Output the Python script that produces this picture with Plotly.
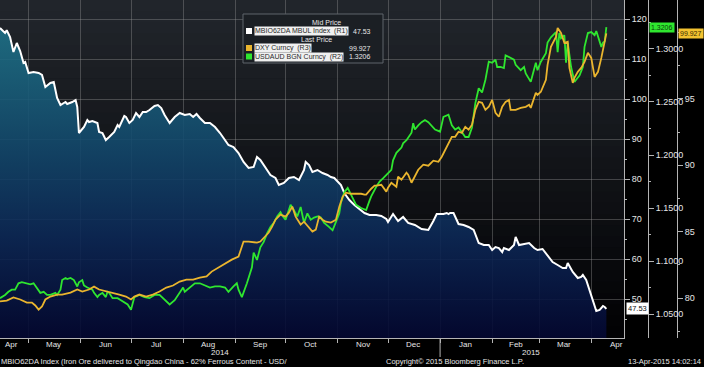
import plotly.graph_objects as go

# ---------------- data ----------------
iron_dates = ["2014-04-14","2014-04-17","2014-04-18","2014-04-20","2014-04-22","2014-04-24","2014-04-26","2014-04-28","2014-04-29","2014-05-01",
 "2014-05-04","2014-05-07","2014-05-09","2014-05-11","2014-05-14","2014-05-16","2014-05-18","2014-05-20","2014-05-23","2014-05-24",
 "2014-05-27","2014-05-29","2014-05-30","2014-05-31","2014-06-03","2014-06-05","2014-06-06","2014-06-08","2014-06-11","2014-06-12",
 "2014-06-14","2014-06-16","2014-06-18","2014-06-21","2014-06-23","2014-06-24","2014-06-27","2014-06-28","2014-06-30","2014-07-02",
 "2014-07-04","2014-07-06","2014-07-08","2014-07-10","2014-07-12","2014-07-15","2014-07-17","2014-07-19","2014-07-21","2014-07-24",
 "2014-07-27","2014-07-30","2014-08-02","2014-08-05","2014-08-07","2014-08-09","2014-08-11","2014-08-14","2014-08-17","2014-08-20",
 "2014-08-23","2014-08-26","2014-08-28","2014-08-31","2014-09-03","2014-09-06","2014-09-09","2014-09-12","2014-09-14","2014-09-16",
 "2014-09-19","2014-09-22","2014-09-25","2014-09-27","2014-09-30","2014-10-03","2014-10-06","2014-10-09","2014-10-12","2014-10-13",
 "2014-10-15","2014-10-17","2014-10-20","2014-10-23","2014-10-26","2014-10-28","2014-10-30","2014-11-01","2014-11-03","2014-11-05",
 "2014-11-08","2014-11-11","2014-11-14","2014-11-17","2014-11-20","2014-11-24","2014-11-27","2014-11-30","2014-12-01","2014-12-04",
 "2014-12-07","2014-12-10","2014-12-13","2014-12-17","2014-12-21","2014-12-25","2014-12-28","2014-12-30","2015-01-03","2015-01-05",
 "2015-01-06","2015-01-07","2015-01-09","2015-01-12","2015-01-15","2015-01-18","2015-01-21","2015-01-24","2015-01-27","2015-01-30",
 "2015-02-01","2015-02-03","2015-02-05","2015-02-07","2015-02-08","2015-02-11","2015-02-14","2015-02-15","2015-02-17","2015-02-20",
 "2015-02-23","2015-02-26","2015-02-28","2015-03-03","2015-03-06","2015-03-09","2015-03-12","2015-03-15","2015-03-17","2015-03-18",
 "2015-03-21","2015-03-24","2015-03-26","2015-03-27","2015-03-29","2015-03-31","2015-04-02","2015-04-04","2015-04-06","2015-04-08",
 "2015-04-09","2015-04-10"]
iron_vals = [117.75,116.5,117.2,115.5,111.75,114.0,112.0,109.0,109.25,106.5,
 106.75,106.5,106.0,103.0,104.0,104.25,100.25,98.5,99.25,98.75,
 99.25,99.75,98.0,91.5,93.0,94.75,94.25,94.5,94.0,91.75,
 91.5,89.75,90.5,91.75,93.5,93.0,95.75,95.5,94.0,94.75,
 96.5,95.5,96.75,96.75,97.25,98.25,98.5,97.75,96.0,94.0,
 95.5,96.5,96.0,96.25,95.5,96.25,95.25,94.0,94.0,93.0,
 91.5,89.75,88.5,88.0,86.5,84.25,82.75,83.0,85.5,84.75,
 82.75,81.0,80.25,78.5,79.0,80.25,80.5,79.75,82.25,84.25,
 83.5,81.75,82.25,81.5,81.0,80.5,80.25,79.25,78.5,76.5,
 74.75,73.5,72.5,71.5,71.0,71.0,70.75,70.0,69.25,71.25,
 69.5,70.5,69.0,68.5,67.5,67.25,69.5,71.25,71.25,71.5,
 71.25,71.5,71.5,68.75,68.5,68.0,67.25,64.0,63.5,63.5,
 62.25,63.0,62.75,61.75,62.75,62.25,63.5,65.5,63.5,63.75,
 64.0,62.75,62.25,62.5,61.0,59.25,58.5,57.75,57.75,59.0,
 56.75,55.25,55.5,56.0,54.75,52.25,49.75,47.0,47.25,48.25,
 48.0,47.53]

aud_dates = ["2014-04-14","2014-04-17","2014-04-19","2014-04-21","2014-04-23","2014-04-25","2014-04-27","2014-04-29","2014-05-02","2014-05-04",
 "2014-05-05","2014-05-07","2014-05-08","2014-05-10","2014-05-12","2014-05-14","2014-05-17","2014-05-18","2014-05-20","2014-05-21",
 "2014-05-23","2014-05-24","2014-05-26","2014-05-28","2014-05-29","2014-05-30","2014-05-31","2014-06-02","2014-06-03","2014-06-05",
 "2014-06-08","2014-06-09","2014-06-11","2014-06-12","2014-06-14","2014-06-16","2014-06-17","2014-06-18","2014-06-20","2014-06-23",
 "2014-06-25","2014-06-27","2014-06-29","2014-07-01","2014-07-02","2014-07-03","2014-07-06","2014-07-09","2014-07-12","2014-07-15",
 "2014-07-18","2014-07-21","2014-07-24","2014-07-27","2014-07-30","2014-08-01","2014-08-02","2014-08-05","2014-08-08","2014-08-11",
 "2014-08-14","2014-08-17","2014-08-20","2014-08-23","2014-08-26","2014-08-28","2014-08-31","2014-09-02","2014-09-03","2014-09-05",
 "2014-09-08","2014-09-11","2014-09-12","2014-09-14","2014-09-16","2014-09-18","2014-09-20","2014-09-22","2014-09-24","2014-09-26",
 "2014-09-28","2014-09-29","2014-10-01","2014-10-04","2014-10-06","2014-10-08","2014-10-10","2014-10-12","2014-10-14","2014-10-16",
 "2014-10-18","2014-10-20","2014-10-22","2014-10-24","2014-10-27","2014-10-29","2014-10-31","2014-11-02","2014-11-03","2014-11-05",
 "2014-11-07","2014-11-09","2014-11-12","2014-11-15","2014-11-18","2014-11-20","2014-11-21","2014-11-24","2014-11-26","2014-11-28",
 "2014-11-30","2014-12-03","2014-12-04","2014-12-06","2014-12-09","2014-12-10","2014-12-12","2014-12-15","2014-12-16","2014-12-17",
 "2014-12-19","2014-12-21","2014-12-23","2014-12-25","2014-12-29","2015-01-01","2015-01-03","2015-01-06","2015-01-08","2015-01-10",
 "2015-01-12","2015-01-14","2015-01-16","2015-01-18","2015-01-20","2015-01-22","2015-01-24","2015-01-26","2015-01-28","2015-01-30",
 "2015-02-01","2015-02-03","2015-02-04","2015-02-06","2015-02-08","2015-02-09","2015-02-12","2015-02-14","2015-02-15","2015-02-18",
 "2015-02-20","2015-02-21","2015-02-24","2015-02-25","2015-02-27","2015-02-28","2015-03-02","2015-03-05","2015-03-06","2015-03-08",
 "2015-03-11","2015-03-12","2015-03-13","2015-03-14","2015-03-16","2015-03-17","2015-03-18","2015-03-20","2015-03-22","2015-03-23",
 "2015-03-25","2015-03-27","2015-03-28","2015-03-30","2015-04-01","2015-04-03","2015-04-04","2015-04-07","2015-04-08","2015-04-09",
 "2015-04-10"]
aud_vals = [1.065,1.068,1.071,1.073,1.073,1.079,1.080,1.079,1.078,1.079,
 1.077,1.073,1.070,1.071,1.068,1.068,1.070,1.068,1.073,1.082,
 1.084,1.083,1.084,1.082,1.079,1.076,1.080,1.082,1.077,1.075,
 1.073,1.070,1.066,1.068,1.070,1.066,1.071,1.070,1.065,1.065,
 1.063,1.061,1.059,1.054,1.061,1.066,1.068,1.066,1.065,1.068,
 1.068,1.063,1.059,1.063,1.071,1.075,1.071,1.075,1.079,1.079,
 1.077,1.075,1.076,1.076,1.075,1.071,1.076,1.079,1.073,1.066,
 1.079,1.094,1.108,1.101,1.113,1.118,1.126,1.132,1.136,1.142,
 1.146,1.143,1.139,1.153,1.148,1.142,1.151,1.136,1.145,1.139,
 1.141,1.142,1.141,1.136,1.132,1.129,1.137,1.145,1.155,1.165,
 1.169,1.162,1.153,1.150,1.148,1.157,1.161,1.170,1.175,1.178,
 1.181,1.186,1.195,1.202,1.207,1.211,1.214,1.221,1.230,1.224,
 1.228,1.231,1.233,1.231,1.224,1.222,1.236,1.238,1.228,1.224,
 1.226,1.221,1.217,1.217,1.226,1.249,1.263,1.259,1.271,1.288,
 1.287,1.290,1.283,1.283,1.282,1.294,1.292,1.290,1.285,1.280,
 1.283,1.277,1.269,1.275,1.287,1.280,1.288,1.296,1.306,1.311,
 1.316,1.297,1.315,1.310,1.313,1.287,1.306,1.283,1.269,1.271,
 1.275,1.283,1.302,1.315,1.316,1.313,1.317,1.302,1.306,1.307,
 1.3206]

dxy_dates = ["2014-04-14","2014-04-18","2014-04-22","2014-04-26","2014-04-30","2014-05-03","2014-05-05","2014-05-07","2014-05-09","2014-05-11",
 "2014-05-14","2014-05-18","2014-05-21","2014-05-26","2014-05-30","2014-06-02","2014-06-06","2014-06-09","2014-06-12","2014-06-17",
 "2014-06-20","2014-06-24","2014-06-28","2014-07-01","2014-07-03","2014-07-06","2014-07-10","2014-07-14","2014-07-18","2014-07-22",
 "2014-07-26","2014-07-30","2014-08-03","2014-08-07","2014-08-11","2014-08-15","2014-08-18","2014-08-23","2014-08-27","2014-08-30",
 "2014-09-03","2014-09-06","2014-09-09","2014-09-14","2014-09-16","2014-09-18","2014-09-21","2014-09-23","2014-09-25","2014-09-28",
 "2014-10-01","2014-10-03","2014-10-05","2014-10-07","2014-10-10","2014-10-12","2014-10-15","2014-10-17","2014-10-19","2014-10-21",
 "2014-10-23","2014-10-25","2014-10-28","2014-10-31","2014-11-02","2014-11-04","2014-11-06","2014-11-09","2014-11-12","2014-11-15",
 "2014-11-17","2014-11-18","2014-11-21","2014-11-23","2014-11-24","2014-11-27","2014-11-30","2014-12-01","2014-12-03","2014-12-06",
 "2014-12-07","2014-12-09","2014-12-12","2014-12-13","2014-12-15","2014-12-17","2014-12-19","2014-12-22","2014-12-25","2014-12-28",
 "2014-12-31","2015-01-02","2015-01-04","2015-01-06","2015-01-08","2015-01-10","2015-01-12","2015-01-14","2015-01-16","2015-01-18",
 "2015-01-20","2015-01-22","2015-01-24","2015-01-26","2015-01-28","2015-01-30","2015-02-01","2015-02-03","2015-02-05","2015-02-07",
 "2015-02-09","2015-02-11","2015-02-12","2015-02-15","2015-02-18","2015-02-21","2015-02-23","2015-02-24","2015-02-27","2015-02-28",
 "2015-03-02","2015-03-05","2015-03-06","2015-03-08","2015-03-11","2015-03-12","2015-03-14","2015-03-16","2015-03-18","2015-03-19",
 "2015-03-21","2015-03-22","2015-03-24","2015-03-26","2015-03-28","2015-03-30","2015-04-01","2015-04-03","2015-04-05","2015-04-07",
 "2015-04-09","2015-04-10"]
dxy_vals = [79.74,79.81,80.04,79.89,79.66,79.66,79.44,79.13,79.36,79.89,
 80.11,80.26,80.26,80.41,80.64,80.49,80.64,80.86,80.64,80.49,
 80.41,80.26,80.11,79.89,80.11,80.26,80.11,80.26,80.49,80.79,
 80.94,81.24,81.39,81.39,81.54,81.62,81.99,82.37,82.67,82.89,
 83.12,84.25,84.25,84.17,84.25,84.55,84.93,85.38,85.90,86.28,
 86.13,86.43,86.88,86.13,85.53,85.75,85.30,85.00,85.15,86.13,
 85.90,85.75,85.68,85.90,86.88,87.63,87.93,87.85,87.85,87.85,
 87.78,87.78,88.23,88.46,88.46,88.53,88.01,88.31,88.68,88.38,
 89.14,88.91,89.44,89.29,88.68,89.14,89.66,90.04,89.96,90.34,
 90.26,90.64,91.17,91.69,92.14,92.14,92.52,92.44,92.89,92.67,
 93.05,94.17,94.77,94.70,94.17,94.40,94.92,93.95,93.65,94.40,
 94.77,94.92,94.17,94.17,94.32,94.40,94.55,94.32,95.45,95.30,
 95.53,96.43,97.56,98.91,99.66,100.34,99.96,99.21,99.29,97.33,
 96.20,96.58,97.03,97.33,97.78,98.46,98.08,96.65,97.03,98.08,
 99.21,99.927]

month_starts = ["2014-05-01","2014-06-01","2014-07-01","2014-08-01","2014-09-01","2014-10-01",
                "2014-11-01","2014-12-01","2015-01-01","2015-02-01","2015-03-01","2015-04-01"]
month_label_dates = ["2014-04-21","2014-05-16","2014-06-16","2014-07-16","2014-08-16","2014-09-16","2014-10-16",
                     "2014-11-16","2014-12-16","2015-01-16","2015-02-15","2015-03-16","2015-04-16"]
month_labels = ["Apr","May","Jun","Jul","Aug","Sep","Oct","Nov","Dec","Jan","Feb","Mar","Apr"]
year_label_dates = ["2014-08-23","2015-02-24"]
year_labels = ["2014","2015"]
year_break = "2015-01-01"
r3_ticks = [80, 85, 90, 95]

X_RANGE = ["2014-04-14", "2015-04-20T12:00"]
R1_RANGE = [40.25, 124.75]
R2_RANGE = [1.0274, 1.3462]
R3_RANGE = [76.99, 102.44]

# ---------------- styling ----------------
W, H = 704, 367
PLOT_H = 338
FONT = "Liberation Sans, Arial, sans-serif"
AX = "#b4b4b4"
TXT = "#e6e6e6"
GREEN = "#2fe62f"
YELLOW = "#eab52e"
GRID = "rgba(150,150,150,0.38)"

def py(px):   # pixel (from top) -> paper y
    return 1 - px / PLOT_H

def pxx(px):
    return px / W

fig = go.Figure()

fig.add_trace(go.Scatter(
    x=iron_dates, y=iron_vals, yaxis="y", mode="lines",
    line=dict(color="white", width=2),
    fill="tozeroy",
    fillgradient=dict(type="vertical", start=R1_RANGE[0], stop=R1_RANGE[1],
                      colorscale=[[0.0, "rgba(4,8,50,0.9)"],
                                  [0.3, "rgba(12,40,86,0.9)"],
                                  [0.55, "rgba(18,70,106,0.9)"],
                                  [0.8, "rgba(26,100,126,0.9)"],
                                  [1.0, "rgba(32,122,142,0.9)"]]),
    hoverinfo="skip", showlegend=False))

fig.add_trace(go.Scatter(
    x=dxy_dates, y=dxy_vals, yaxis="y3", mode="lines",
    line=dict(color=YELLOW, width=1.8), hoverinfo="skip", showlegend=False))

fig.add_trace(go.Scatter(
    x=aud_dates, y=aud_vals, yaxis="y2", mode="lines",
    line=dict(color=GREEN, width=1.8), hoverinfo="skip", showlegend=False))

# background vertical gradient (decoration below the grid)
shapes = []
N = 30
top_c, bot_c = (34, 38, 44), (1, 1, 3)
for i in range(N):
    t = (i + 0.5) / N
    c = tuple(int(round(bot_c[k] + (top_c[k] - bot_c[k]) * t)) for k in range(3))
    shapes.append(dict(type="rect", xref="x domain", yref="y domain",
                       x0=0, x1=1, y0=i / N, y1=(i + 1) / N + 0.002,
                       fillcolor="rgb(%d,%d,%d)" % c, line=dict(width=0), layer="below"))

# year separator tick
shapes.append(dict(type="line", xref="x", yref="paper", x0=year_break, x1=year_break,
                   y0=0, y1=py(357), line=dict(color=AX, width=1)))

# legend box
shapes.append(dict(type="rect", xref="paper", yref="paper",
                   x0=pxx(243), x1=pxx(383), y0=py(63), y1=py(14),
                   fillcolor="rgb(27,31,36)", line=dict(color="rgb(95,100,106)", width=1)))
for yc, col in [(31, "white"), (48, YELLOW), (56.5, GREEN)]:
    shapes.append(dict(type="rect", xref="paper", yref="paper",
                       x0=pxx(246), x1=pxx(252), y0=py(yc + 3), y1=py(yc - 3),
                       fillcolor=col, line=dict(width=0)))

annotations = []
def ann(text, x, y, xanchor="left", color=TXT, size=8, bg=None, yref="paper", xref="paper", pad=0, **kw):
    d = dict(text=text, x=x, y=y, xref=xref, yref=yref, xanchor=xanchor, yanchor="middle",
             showarrow=False, borderpad=pad, font=dict(family=FONT, size=size, color=color))
    if bg:
        d.update(bgcolor=bg)
    d.update(kw)
    annotations.append(d)

# legend texts
LG = "#f0f0f0"
ann("Mid Price", pxx(326), py(22), xanchor="center", size=7)
ann("MBIO62DA MBUL Index  (R1)", pxx(254), py(31), color="#2a2a2a", bg=LG, size=7)
ann("%.2f" % iron_vals[-1], pxx(372), py(31), xanchor="right", size=7)
ann("Last Price", pxx(316), py(40), xanchor="center", size=7)
ann("DXY Curncy  (R3)", pxx(254), py(48), color="#2a2a2a", bg=LG, size=7)
ann("%.3f" % dxy_vals[-1], pxx(372), py(48), xanchor="right", size=7)
ann("USDAUD BGN Curncy  (R2)", pxx(254), py(56.5), color="#2a2a2a", bg=LG, size=7)
ann("%.4f" % aud_vals[-1], pxx(372), py(56.5), xanchor="right", size=7)

# last value tags on the axes
ann("%.2f" % iron_vals[-1], pxx(626), iron_vals[-1], yref="y", color="#111", bg="white", size=7.5, pad=1)
ann("%.4f" % aud_vals[-1], pxx(649), aud_vals[-1], yref="y2", color="#0a3a0a", bg=GREEN, size=7, pad=1)
ann("%.3f" % dxy_vals[-1], pxx(704), dxy_vals[-1], yref="y3", xanchor="right",
    color="#3a2a00", bg="#f2c230", size=7, pad=1)

# month labels and year labels
for d, t in zip(month_label_dates, month_labels):
    ann(t, d, py(344), xref="x", xanchor="center", size=8)
for d, t in zip(year_label_dates, year_labels):
    ann(t, d, py(353), xref="x", xanchor="center", size=8)

# footer
ann("MBIO62DA Index (Iron Ore delivered to Qingdao China - 62% Ferrous Content - USD/", 0, py(361.5), size=7.5)
ann("Copyright© 2015 Bloomberg Finance L.P.", pxx(455), py(361.5), xanchor="center", size=7.5)
ann("13-Apr-2015 14:02:14", pxx(702), py(361.5), xanchor="right", size=7.5)

tickfont = dict(family=FONT, size=9, color=TXT)
XDOM = [0, 624 / W]

fig.update_layout(
    width=W, height=H,
    margin=dict(l=0, r=0, t=0, b=H - PLOT_H),
    paper_bgcolor="black", plot_bgcolor="black",
    showlegend=False, hovermode=False,
    xaxis=dict(domain=XDOM, range=X_RANGE, type="date",
               tickmode="array", tickvals=month_starts, showticklabels=False,
               ticks="outside", ticklen=4, tickcolor=AX,
               showgrid=True, gridcolor=GRID, gridwidth=1,
               showline=True, linecolor=AX, linewidth=1, zeroline=False),
    yaxis=dict(range=R1_RANGE, side="right", anchor="x", tickmode="linear", tick0=0, dtick=10,
               ticks="outside", ticklen=5, tickcolor=AX, tickfont=tickfont,
               showgrid=True, gridcolor=GRID, gridwidth=1,
               showline=True, linecolor=AX, linewidth=1, zeroline=False,
               minor=dict(ticks="outside", ticklen=2, dtick=5, tick0=0, tickcolor=AX, showgrid=False)),
    yaxis2=dict(range=R2_RANGE, overlaying="y", side="right", anchor="free", position=648 / W,
                tickmode="linear", tick0=1.05, dtick=0.05, tickformat=".4f",
                ticks="outside", ticklen=5, tickcolor=AX, tickfont=tickfont,
                showgrid=False, showline=True, linecolor=AX, linewidth=1, zeroline=False,
                minor=dict(ticks="outside", ticklen=2, dtick=0.025, tick0=1.05, tickcolor=AX, showgrid=False)),
    yaxis3=dict(range=R3_RANGE, overlaying="y", side="right", anchor="free", position=677 / W,
                tickmode="array", tickvals=r3_ticks,
                ticks="outside", ticklen=5, tickcolor=AX, tickfont=tickfont,
                showgrid=False, showline=True, linecolor=AX, linewidth=1, zeroline=False,
                minor=dict(ticks="outside", ticklen=2, dtick=2.5, tick0=80, tickcolor=AX, showgrid=False)),
    shapes=shapes,
    annotations=annotations,
)

fig.write_html("out.html", config={"displayModeBar": False},
               post_script="document.body.style.margin='0px';document.body.style.overflow='hidden';")
